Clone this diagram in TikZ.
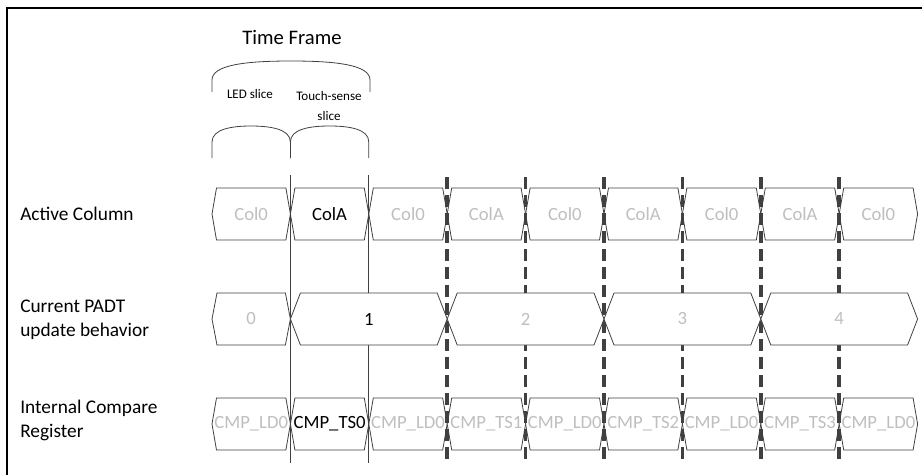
\documentclass[tikz,border=0pt]{standalone}
\usepackage{fontspec}
\setmainfont{Carlito}
\definecolor{linegray}{HTML}{404040}
\definecolor{textgray}{HTML}{BFBFBF}
\tikzset{
  cell/.style={draw=linegray, fill=white, line width=0.6pt},
  celltext/.style={font=\fontsize{14}{16}\selectfont, inner sep=0pt},
  rowlabel/.style={anchor=west, align=left, font=\fontsize{14.5}{18}\selectfont, inner sep=0pt},
  slicetext/.style={align=center, font=\fontsize{9.8}{15.5}\selectfont, inner sep=0pt},
  brace/.style={draw=linegray, line width=0.6pt},
  slotline/.style={draw=linegray, line width=0.6pt},
  frameline/.style={draw=linegray, line width=2.6pt, dash pattern=on 9pt off 4.5pt},
}
\begin{document}
\begin{tikzpicture}[x=0.75pt,y=-0.75pt]
\useasboundingbox (0,0) rectangle (922,475);
\draw[black,line width=0.8pt] (922,8) -- (7,8) -- (7,475);
% braces
\node[font=\fontsize{15.5}{18}\selectfont] (frame) at (292,37) {Time Frame};
\draw[brace] (212,92) -- (212,80) .. controls (212,65) and (245,61) .. (291,61) .. controls (337,61) and (370,65) .. (370,80) -- (370,92);
\node[slicetext] (led) at (250,94) {LED slice};
\node[slicetext] (touch) at (329,106) {Touch-sense\\slice};
\draw[brace] (212,158) -- (212,142) .. controls (212,129) and (232,126) .. (251,126) .. controls (270,126) and (290.4,129) .. (290.4,142) -- (290.4,158);
\draw[brace] (290.4,158) -- (290.4,142) .. controls (290.4,129) and (310,126) .. (329.6,126) .. controls (349,126) and (368.8,129) .. (368.8,142) -- (368.8,158);
% row labels
\node[rowlabel] (active) at (20,214) {Active Column};
\node[rowlabel] (padt) at (20,320) {Current PADT\\update behavior};
\node[rowlabel] (cmpreg) at (20,420) {Internal Compare\\Register};
% active column
\foreach \k/\t/\c in {0/Col0/textgray,1/ColA/black,2/Col0/textgray,3/ColA/textgray,4/Col0/textgray,5/ColA/textgray,6/Col0/textgray,7/ColA/textgray,8/Col0/textgray}{
  \pgfmathsetmacro{\xa}{212+78.4*\k}
  \pgfmathsetmacro{\xb}{\xa+78.4}
  \filldraw[cell] (\xa,214) -- (\xa+4.5,188) -- (\xb-4.5,188) -- (\xb,214) -- (\xb-4.5,240) -- (\xa+4.5,240) -- cycle;
  \node[celltext,text=\c] (col\k) at ({(\xa+\xb)/2},214) {\t};
}
% internal compare register
\foreach \k/\t/\c in {0/LD0/textgray,1/TS0/black,2/LD0/textgray,3/TS1/textgray,4/LD0/textgray,5/TS2/textgray,6/LD0/textgray,7/TS3/textgray,8/LD0/textgray}{
  \pgfmathsetmacro{\xa}{212+78.4*\k}
  \pgfmathsetmacro{\xb}{\xa+78.4}
  \filldraw[cell] (\xa,424) -- (\xa+4.5,398) -- (\xb-4.5,398) -- (\xb,424) -- (\xb-4.5,450) -- (\xa+4.5,450) -- cycle;
  \node[celltext,text=\c] (reg\k) at ({(\xa+\xb)/2},424) {CMP\_\t};
}
% slot borders
\foreach \x in {290.4,368.8}
  \draw[slotline] (\x,175) -- (\x,463);
\foreach \x in {447.2,525.6,604,682.4,760.8,839.2}
  \draw[frameline] (\x,177) -- (\x,463);
% current PADT update
\foreach \xa/\xb/\n/\t/\c in {212/290.4/5/0/textgray,290.4/447.2/10/1/black,447.2/604/10/2/textgray,604/760.8/10/3/textgray,760.8/917.6/10/4/textgray}{
  \filldraw[cell] (\xa,319) -- (\xa+\n,293) -- (\xb-\n,293) -- (\xb,319) -- (\xb-\n,345) -- (\xa+\n,345) -- cycle;
  \node[celltext,text=\c] (padt\t) at ({(\xa+\xb)/2},319) {\t};
}
\end{tikzpicture}
\end{document}
